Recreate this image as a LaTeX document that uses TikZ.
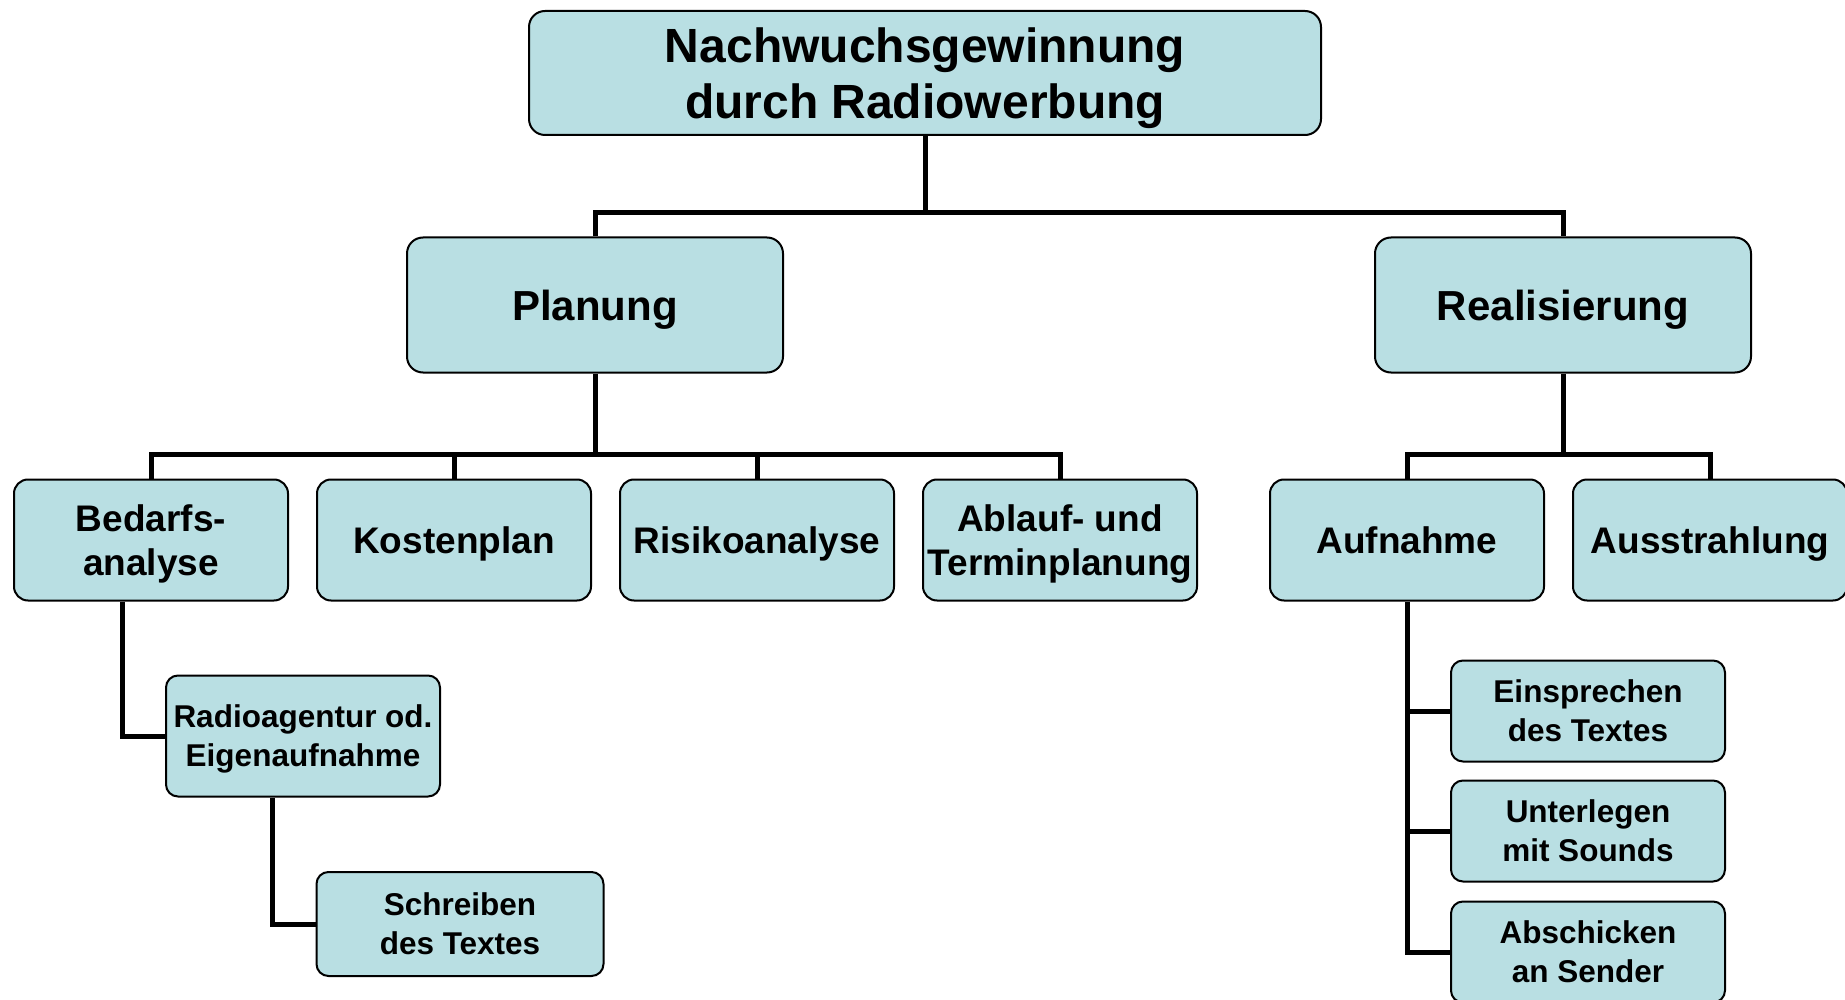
\documentclass[tikz,border=0pt]{standalone}
\usepackage{fontspec}
\setmainfont{Liberation Sans}
\usepackage{xcolor}
\usepackage{tikz}
\usetikzlibrary{positioning}
\definecolor{boxfill}{RGB}{185,223,227}

\begin{document}
\begin{tikzpicture}
[
	x = 1pt, y = -1pt,
	box/.style	= {rectangle, draw = black, fill = boxfill, line width = 2pt, rounded corners = 16pt, align = center, inner sep = 2pt, text depth = 0pt},
	root/.style	= {box, minimum width = 792pt, minimum height = 124pt, font = \fontsize{48}{56}\selectfont\bfseries},
	phase/.style	= {box, minimum width = 376pt, minimum height = 135pt, font = \fontsize{42}{50}\selectfont\bfseries},
	task/.style	= {box, minimum width = 274pt, minimum height = 121pt, rounded corners = 14pt, font = \fontsize{37}{43.5}\selectfont\bfseries},
	subtask/.style	= {box, minimum width = 274pt, minimum height = 101pt, rounded corners = 12pt, font = \fontsize{31.5}{39}\selectfont\bfseries},
	link/.style	= {line width = 5pt},
	node distance = 27pt,
]

	\useasboundingbox (0, 0) rectangle (1845, 1000);

	\node (top) [root] at (925, 73) {Nachwuchsgewinnung\\durch Radiowerbung};
	%
	\node (plan) [phase] at (595, 305) {Planung};
	\node (real) [phase, right = 590pt of plan] {Realisierung};
	%
	\node (bed) [task] at (151, 540) {Bedarfs-\\analyse};
	\node (kost) [task, right = of bed] {Kostenplan};
	\node (risk) [task, right = of kost] {Risikoanalyse};
	\node (ablauf) [task, right = of risk] {Ablauf- und\\Terminplanung};
	\node (aufn) [task, right = 71pt of ablauf] {Aufnahme};
	\node (ausst) [task, right = of aufn] {Ausstrahlung};
	%
	\node (radio) [subtask, minimum height = 121pt] at (303, 736) {Radioagentur od.\\Eigenaufnahme};
	\node (schreib) [subtask, minimum width = 287pt, minimum height = 104pt] at (460, 924) {Schreiben\\des Textes};
	%
	\node (einspr) [subtask] at (1588, 711) {Einsprechen\\des Textes};
	\node (unterl) [subtask] at (1588, 831) {Unterlegen\\mit Sounds};
	\node (absch) [subtask] at (1588, 952) {Abschicken\\an Sender};

	\draw [link] (top.south) -- ++(0, 77) coordinate (bus0);
	\draw [link] (plan.north) |- (bus0) -| (real.north);

	\draw [link] (plan.south) -- ++(0, 81) coordinate (bus1);
	\draw [link] (bed.north) |- (bus1) -| (ablauf.north);
	\draw [link] (kost.north) -- (kost.north |- bus1);
	\draw [link] (risk.north) -- (risk.north |- bus1);
	%
	\draw [link] (real.south) -- ++(0, 81) coordinate (bus2);
	\draw [link] (aufn.north) |- (bus2) -| (ausst.north);

	\draw [link] ([xshift = -29pt] bed.south) |- (radio.west);
	\draw [link] ([xshift = -31pt] radio.south) |- (schreib.west);
	%
	\draw [link] (aufn.south) |- (absch.west);
	\draw [link] (einspr.west) -- (einspr.west -| aufn.south);
	\draw [link] (unterl.west) -- (unterl.west -| aufn.south);

\end{tikzpicture}
\end{document}
